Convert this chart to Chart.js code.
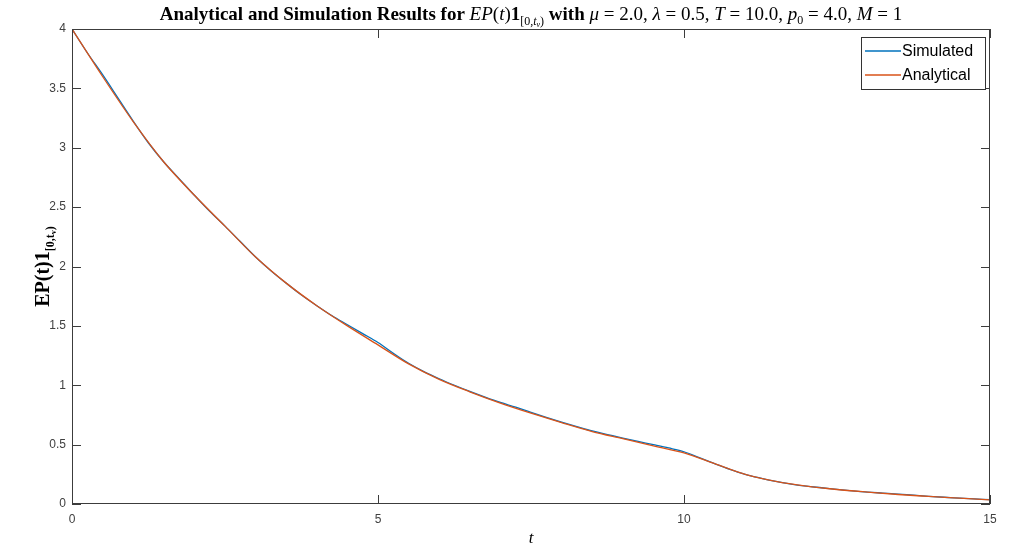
<!DOCTYPE html>
<html>
<head>
<meta charset="utf-8">
<script src="https://cdn.jsdelivr.net/npm/chart.js@4"></script>
<style>
  html, body { margin: 0; padding: 0; background: #fff; }
  #wrap { width: 1031px; height: 550px; }
</style>
</head>
<body>
<div id="wrap"><canvas id="chart" width="1031" height="550"></canvas></div>
<script>
// data
const simT = [0, 0.25, 0.5, 0.75, 1, 1.25, 1.5, 1.75, 2, 2.25, 2.5, 2.75, 3, 3.25, 3.5, 3.75,
  4, 4.25, 4.5, 4.75, 5, 5.25, 5.5, 5.75, 6, 6.25, 6.5, 6.75, 7, 7.25, 7.5, 7.75,
  8, 8.25, 8.5, 8.75, 9, 9.25, 9.5, 9.75, 10, 10.25, 10.5, 10.75, 11, 11.25, 11.5, 11.75,
  12, 12.25, 12.5, 12.75, 13, 13.25, 13.5, 13.75, 14, 14.25, 14.5, 14.75, 15];
const simulated = [4.00, 3.80, 3.615, 3.42, 3.225, 3.04, 2.88, 2.74, 2.60, 2.465, 2.34, 2.21,
  2.08, 1.965, 1.86, 1.76, 1.67, 1.585, 1.51, 1.435, 1.36, 1.27, 1.185, 1.115, 1.055, 1.00,
  0.948, 0.90, 0.855, 0.815, 0.772, 0.73, 0.69, 0.652, 0.615, 0.585, 0.555, 0.527, 0.50, 0.472,
  0.44, 0.39, 0.34, 0.292, 0.25, 0.218, 0.19, 0.168, 0.15, 0.137, 0.124, 0.111, 0.10,
  0.092, 0.084, 0.074, 0.065, 0.057, 0.05, 0.043, 0.036];

const anaT = [0, 0.5, 1, 1.5, 2, 2.5, 3, 3.5, 4, 4.5, 5, 5.5, 6, 6.5, 7, 7.5,
  8, 8.5, 9, 9.5, 10, 10.5, 11, 11.5, 12, 12.5, 13, 13.5, 14, 14.5, 15];
const analytical = [4.00, 3.60, 3.22, 2.88, 2.60, 2.34, 2.08, 1.86, 1.67, 1.50, 1.34,
  1.18, 1.05, 0.945, 0.85, 0.765, 0.685, 0.61, 0.55, 0.49, 0.43, 0.34, 0.25, 0.19,
  0.15, 0.122, 0.10, 0.08, 0.064, 0.049, 0.034];

const xTicks = [0, 5, 10, 15];
const yTicks = [0, 0.5, 1, 1.5, 2, 2.5, 3, 3.5, 4];

const BLUE = '#0072BD';
const ORANGE = '#D95319';
const AXIS = '#3c3c3c';
const SERIF = '"Liberation Serif", "DejaVu Serif", serif';
const SANS = '"Liberation Sans", Arial, sans-serif';

// draw a run of text pieces with different fonts
function drawPieces(ctx, pieces, x, y, align) {
  let total = 0;
  pieces.forEach(p => { ctx.font = p.font; total += ctx.measureText(p.t).width; });
  let cx = align === 'center' ? x - total / 2 : x;
  ctx.textBaseline = 'alphabetic';
  ctx.textAlign = 'left';
  pieces.forEach(p => {
    ctx.font = p.font;
    ctx.fillText(p.t, cx, y + (p.dy || 0));
    cx += ctx.measureText(p.t).width;
  });
}

const B = 'bold 19px ' + SERIF;
const I = 'italic 19px ' + SERIF;
const N = '19px ' + SERIF;
const SI = 'italic 12px ' + SERIF;
const SN = '12px ' + SERIF;

const titlePieces = [
  { t: 'Analytical and Simulation Results for ', font: B },
  { t: 'EP', font: I }, { t: '(', font: N }, { t: 't', font: I }, { t: ')', font: N },
  { t: '1', font: B },
  { t: '[0,', font: SN, dy: 5 }, { t: 't', font: SI, dy: 5 }, { t: 'v', font: 'italic 8px ' + SERIF, dy: 7 }, { t: ')', font: SN, dy: 5 },
  { t: ' with ', font: B },
  { t: 'μ', font: I }, { t: ' = 2.0, ', font: N },
  { t: 'λ', font: I }, { t: ' = 0.5, ', font: N },
  { t: 'T', font: I }, { t: ' = 10.0, ', font: N },
  { t: 'p', font: I }, { t: '0', font: SN, dy: 4 }, { t: ' = 4.0, ', font: N },
  { t: 'M', font: I }, { t: ' = 1', font: N }
];

const yLabelPieces = [
  { t: 'EP(t)1', font: 'bold 20px ' + SERIF },
  { t: '[0,t', font: 'bold 12px ' + SERIF, dy: 5 },
  { t: 'v', font: 'bold 8px ' + SERIF, dy: 7 },
  { t: ')', font: 'bold 12px ' + SERIF, dy: 5 }
];

const legendColors = [BLUE, ORANGE];

const matlabLook = {
  id: 'matlabLook',
  afterDraw(chart) {
    const ctx = chart.ctx;
    const a = chart.chartArea;
    const xs = chart.scales.x, ys = chart.scales.y;
    ctx.save();
    // box
    ctx.strokeStyle = AXIS;
    ctx.lineWidth = 1;
    ctx.strokeRect(a.left + 0.5, a.top + 0.5, a.right - a.left - 1, a.bottom - a.top - 1);
    // inward ticks
    ctx.beginPath();
    xTicks.forEach(v => {
      const px = Math.round(xs.getPixelForValue(v)) + 0.5;
      ctx.moveTo(px, a.bottom); ctx.lineTo(px, a.bottom - 9);
      ctx.moveTo(px, a.top); ctx.lineTo(px, a.top + 9);
    });
    yTicks.forEach(v => {
      const py = Math.round(ys.getPixelForValue(v)) + 0.5;
      ctx.moveTo(a.left, py); ctx.lineTo(a.left + 9, py);
      ctx.moveTo(a.right, py); ctx.lineTo(a.right - 9, py);
    });
    ctx.stroke();

    // title
    ctx.fillStyle = '#000';
    drawPieces(ctx, titlePieces, (a.left + a.right) / 2, 20, 'center');

    // x label
    drawPieces(ctx, [{ t: 't', font: 'italic 17px ' + SERIF }], (a.left + a.right) / 2, 543, 'center');

    // y label, rotated
    ctx.save();
    ctx.translate(49, (a.top + a.bottom) / 2);
    ctx.rotate(-Math.PI / 2);
    drawPieces(ctx, yLabelPieces, 0, 0, 'center');
    ctx.restore();

    // legend box
    const lx = 861, ly = 37, lw = 124, lh = 52;
    ctx.fillStyle = '#fff';
    ctx.fillRect(lx, ly, lw, lh);
    ctx.strokeStyle = '#333';
    ctx.lineWidth = 1;
    ctx.strokeRect(lx + 0.5, ly + 0.5, lw, lh);
    chart.data.datasets.forEach((ds, i) => {
      const yy = ly + 14 + i * 24;
      ctx.strokeStyle = legendColors[i];
      ctx.lineWidth = 1.3;
      ctx.beginPath();
      ctx.moveTo(lx + 4, yy);
      ctx.lineTo(lx + 40, yy);
      ctx.stroke();
      ctx.fillStyle = '#000';
      ctx.font = '16px ' + SANS;
      ctx.textAlign = 'left';
      ctx.textBaseline = 'middle';
      ctx.fillText(ds.label, lx + 41, yy + 1);
    });
    ctx.restore();
  }
};

new Chart(document.getElementById('chart').getContext('2d'), {
  type: 'line',
  data: {
    datasets: [
      {
        label: 'Simulated',
        data: simT.map((t, i) => ({ x: t, y: simulated[i] })),
        borderColor: BLUE,
        borderWidth: 1.3,
        pointRadius: 0,
        order: 1,
        cubicInterpolationMode: 'monotone'
      },
      {
        label: 'Analytical',
        data: anaT.map((t, i) => ({ x: t, y: analytical[i] })),
        borderColor: ORANGE,
        borderWidth: 1.3,
        pointRadius: 0,
        order: 0,
        cubicInterpolationMode: 'monotone'
      }
    ]
  },
  options: {
    responsive: false,
    animation: false,
    layout: { padding: { top: 29, right: 41, left: 0, bottom: 0 } },
    plugins: {
      legend: { display: false },
      title: { display: false },
      tooltip: { enabled: false }
    },
    scales: {
      x: {
        type: 'linear',
        min: 0, max: 15,
        afterFit: s => { s.height = 46; },
        afterBuildTicks: s => { s.ticks = xTicks.map(v => ({ value: v })); },
        grid: { display: false, drawTicks: false },
        border: { display: false },
        ticks: { padding: 8, color: '#404040', font: { family: SANS, size: 12 }, callback: v => String(v) }
      },
      y: {
        min: 0, max: 4,
        afterFit: s => { s.width = 72; },
        afterBuildTicks: s => { s.ticks = yTicks.map(v => ({ value: v })); },
        grid: { display: false, drawTicks: false },
        border: { display: false },
        ticks: { padding: 6, color: '#404040', font: { family: SANS, size: 12 }, callback: v => String(v) }
      }
    }
  },
  plugins: [matlabLook]
});
</script>
</body>
</html>
